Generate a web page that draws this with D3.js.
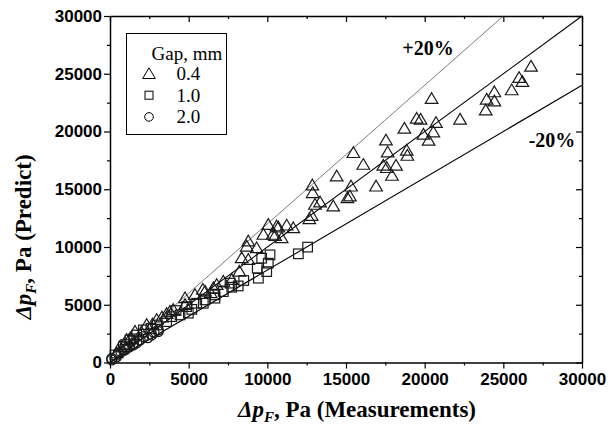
<!DOCTYPE html>
<html>
<head>
<meta charset="utf-8">
<script src="https://cdn.jsdelivr.net/npm/d3@7"></script>
<style>
  body { margin: 0; background: #fff; }
  .tick text { font-family: "Liberation Sans", Arial, sans-serif; font-weight: bold; }
  .lbl { font-family: "Liberation Serif", "Times New Roman", serif; }
</style>
</head>
<body>
<script>
var width = 612,
  height = 428,
  padLeft = 110, padRight = 582, padTop = 16, padBottom = 362.5;

// Gap 0.4 mm (triangles)
var gap04X = [26760, 26000, 26210, 25530, 24430, 23940, 24430, 23880, 22250, 20440,
  19490, 19740, 20720, 18710, 19920, 20550, 20250, 17540, 17650, 18860,
  18900, 15470, 16100, 17370, 17590, 18180, 17920, 16910, 15320, 14410,
  12860, 12880, 15250, 15090, 13350, 13030, 14190, 12820, 12670, 10590,
  11230, 11650, 10060, 10490, 10910, 10700, 9750, 10340, 8790, 8690,
  9320, 8370, 8790, 8220, 7200, 6780, 6570, 7740, 6040, 5400,
  4770, 4770, 4020, 3810, 2970, 2330, 1590, 1060, 640, 420,
  3300, 2700, 2000, 1300, 900, 5900, 6400, 3600];
var gap04Y = [25620, 24640, 24300, 23570, 23400, 22760, 22610, 21830, 21030, 22820,
  21110, 21030, 20740, 20250, 19730, 19930, 19210, 19230, 18190, 18340,
  17900, 18140, 17120, 17040, 16840, 17040, 16170, 15240, 15240, 16110,
  15330, 14670, 14380, 14240, 13860, 13660, 13510, 12700, 12410, 11780,
  11860, 11630, 11920, 10970, 10770, 11690, 11060, 11060, 10480, 10040,
  9900, 9030, 8890, 7870, 7010, 6720, 6430, 7150, 6140, 5850,
  5570, 4990, 4550, 4400, 3690, 3250, 2670, 1950, 1370, 800,
  3900, 3300, 2600, 2100, 1550, 6300, 6000, 4200];

// Gap 1.0 mm (squares)
var gap10X = [12560, 11970, 10170, 9640, 10060, 9360, 9430, 9960, 8150, 7630,
  7740, 7200, 6670, 6670, 6040, 5510, 5930, 4870, 4980, 4450,
  3920, 3600, 2120, 1700, 1270, 850, 320,
  2600, 3000, 1000, 1500, 4200, 8500, 5200];
var gap10Y = [9990, 9410, 9320, 9030, 8600, 8170, 7300, 7870, 6630, 6870,
  6520, 6140, 5850, 5570, 5420, 5130, 5130, 4840, 4270, 4120,
  3970, 3540, 2820, 2380, 1950, 1370, 650,
  2950, 3250, 1550, 2050, 4500, 7100, 4600];

// Gap 2.0 mm (circles)
var gap20X = [3070, 3070, 2800, 2650, 2120, 1910, 1700, 1480, 1480, 1060, 950, 700, 530, 420, 110, 110, 2400, 1250];
var gap20Y = [2820, 2670, 2600, 2380, 2240, 1950, 1700, 1660, 1520, 1230, 1080, 900, 800, 500, 360, 220, 2150, 1350];

var majorTicks = [0, 5000, 10000, 15000, 20000, 25000, 30000];
var minorTicks = [2500, 7500, 12500, 17500, 22500, 27500];
var legendLabels = ["0.4", "1.0", "2.0"];

var svg = d3.select("body")
  .append("svg")
  .attr("width", width)
  .attr("height", height);

var xScale = d3.scaleLinear().domain([0, 30000]).range([padLeft, padRight]);
var yScale = d3.scaleLinear().domain([0, 30000]).range([padBottom, padTop]);
var fmt = d3.format("d");

//----------Axes----------
function styleAxis(g) {
  g.select(".domain").attr("stroke", "#000").attr("stroke-width", 1.5);
  g.selectAll(".tick line").attr("stroke", "#000").attr("stroke-width", 1.2);
}

svg.append("g")
  .attr("transform", "translate(0," + padBottom + ")")
  .call(d3.axisBottom(xScale).tickValues(majorTicks).tickFormat(fmt).tickSize(6).tickSizeOuter(0).tickPadding(4))
  .call(styleAxis)
  .selectAll("text").attr("font-size", 17).attr("fill", "#000");
svg.append("g")
  .attr("transform", "translate(0," + padBottom + ")")
  .call(d3.axisBottom(xScale).tickValues(minorTicks).tickSize(3).tickFormat(""))
  .call(styleAxis)
  .select(".domain").remove();

svg.append("g")
  .attr("transform", "translate(" + padLeft + ",0)")
  .call(d3.axisLeft(yScale).tickValues(majorTicks).tickFormat(fmt).tickSize(6).tickSizeOuter(0).tickPadding(2))
  .call(styleAxis)
  .selectAll("text").attr("font-size", 17).attr("fill", "#000");
svg.append("g")
  .attr("transform", "translate(" + padLeft + ",0)")
  .call(d3.axisLeft(yScale).tickValues(minorTicks).tickSize(3).tickFormat(""))
  .call(styleAxis)
  .select(".domain").remove();

// top and right: ticks pointing inward
svg.append("g")
  .attr("transform", "translate(0," + padTop + ")")
  .call(d3.axisBottom(xScale).tickValues(majorTicks).tickSize(6).tickSizeOuter(0).tickFormat(""))
  .call(styleAxis);
svg.append("g")
  .attr("transform", "translate(0," + padTop + ")")
  .call(d3.axisBottom(xScale).tickValues(minorTicks).tickSize(3).tickFormat(""))
  .call(styleAxis)
  .select(".domain").remove();
svg.append("g")
  .attr("transform", "translate(" + padRight + ",0)")
  .call(d3.axisLeft(yScale).tickValues(majorTicks).tickSize(6).tickSizeOuter(0).tickFormat(""))
  .call(styleAxis);
svg.append("g")
  .attr("transform", "translate(" + padRight + ",0)")
  .call(d3.axisLeft(yScale).tickValues(minorTicks).tickSize(3).tickFormat(""))
  .call(styleAxis)
  .select(".domain").remove();

//----------Reference lines----------
var refLines = [
  { k: 1.2, w: 0.7, c: "#444" },
  { k: 1.0, w: 1.1, c: "#000" },
  { k: 0.8, w: 1.1, c: "#000" }
];
refLines.forEach(function (r) {
  var xEnd = Math.min(30000, 30000 / r.k);
  svg.append("line")
    .attr("x1", xScale(0)).attr("y1", yScale(0))
    .attr("x2", xScale(xEnd)).attr("y2", yScale(xEnd * r.k))
    .attr("stroke", r.c).attr("stroke-width", r.w);
});

svg.append("text").attr("class", "lbl")
  .attr("x", 428).attr("y", 55)
  .attr("text-anchor", "middle")
  .attr("font-size", 20).attr("font-weight", "bold")
  .text("+20%");
svg.append("text").attr("class", "lbl")
  .attr("x", 552).attr("y", 147)
  .attr("text-anchor", "middle")
  .attr("font-size", 20).attr("font-weight", "bold")
  .text("-20%");

//----------Data points----------
var triPath = "M0,-6.2L6.3,4.5L-6.3,4.5Z";
function zip(xs, ys) { return xs.map(function (x, i) { return [x, ys[i]]; }); }

var marks = svg.append("g")
  .attr("fill", "none").attr("stroke", "#1a1a1a").attr("stroke-width", 1.2);

marks.selectAll("path.tri")
  .data(zip(gap04X, gap04Y))
  .enter().append("path")
  .attr("class", "tri")
  .attr("d", triPath)
  .attr("transform", function (d) { return "translate(" + xScale(d[0]) + "," + yScale(d[1]) + ")"; });

marks.selectAll("rect.sq")
  .data(zip(gap10X, gap10Y))
  .enter().append("rect")
  .attr("class", "sq")
  .attr("x", function (d) { return xScale(d[0]) - 4.8; })
  .attr("y", function (d) { return yScale(d[1]) - 4.8; })
  .attr("width", 9.6).attr("height", 9.6);

marks.selectAll("circle.ci")
  .data(zip(gap20X, gap20Y))
  .enter().append("circle")
  .attr("class", "ci")
  .attr("cx", function (d) { return xScale(d[0]); })
  .attr("cy", function (d) { return yScale(d[1]); })
  .attr("r", 5);

//----------Legend----------
var legend = svg.append("g");
legend.append("rect")
  .attr("x", 126.5).attr("y", 33.5).attr("width", 100).attr("height", 101)
  .attr("fill", "#fff").attr("stroke", "#000").attr("stroke-width", 1);
legend.append("text").attr("class", "lbl")
  .attr("x", 151.5).attr("y", 59.5).attr("font-size", 19)
  .text("Gap, mm");
var legendMarks = legend.append("g")
  .attr("fill", "none").attr("stroke", "#000").attr("stroke-width", 1);
legendLabels.forEach(function (t, i) {
  var cy = 73.5 + i * 21.7;
  if (i === 0) legendMarks.append("path").attr("d", triPath).attr("transform", "translate(149," + (cy + 0.5) + ")");
  if (i === 1) legendMarks.append("rect").attr("x", 145).attr("y", cy - 4).attr("width", 8).attr("height", 8);
  if (i === 2) legendMarks.append("circle").attr("cx", 149).attr("cy", cy).attr("r", 4.3);
  legend.append("text").attr("class", "lbl")
    .attr("x", 176.5).attr("y", cy + 6.5).attr("font-size", 19)
    .text(t);
});

//----------Axis titles----------
var xt = svg.append("text").attr("class", "lbl")
  .attr("x", 357).attr("y", 417)
  .attr("text-anchor", "middle")
  .attr("font-size", 23).attr("font-weight", "bold");
xt.append("tspan").attr("font-style", "italic").text("Δp");
xt.append("tspan").attr("font-style", "italic").attr("font-size", 15).attr("dy", 5).text("F");
xt.append("tspan").attr("dy", -5).text(", Pa (Measurements)");

var yt = svg.append("text").attr("class", "lbl")
  .attr("transform", "translate(31,237) rotate(-90)")
  .attr("text-anchor", "middle")
  .attr("font-size", 23).attr("font-weight", "bold");
yt.append("tspan").attr("font-style", "italic").text("Δp");
yt.append("tspan").attr("font-style", "italic").attr("font-size", 15).attr("dy", 5).text("F");
yt.append("tspan").attr("dy", -5).text(", Pa (Predict)");
</script>
</body>
</html>
